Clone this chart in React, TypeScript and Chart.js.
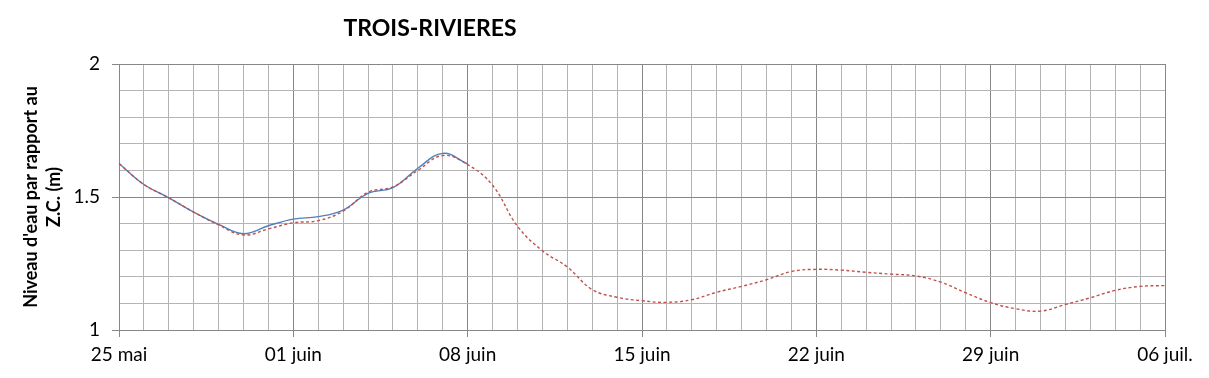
import React, { useEffect, useRef } from 'react';
import { Chart, registerables } from 'chart.js';

Chart.register(...registerables);

const chartTitle = 'TROIS-RIVIERES';
const yAxisTitle = ["Niveau d'eau par rapport au", 'Z.C. (m)'];

const dates = [
  '25 mai', '26 mai', '27 mai', '28 mai', '29 mai', '30 mai', '31 mai',
  '01 juin', '02 juin', '03 juin', '04 juin', '05 juin', '06 juin', '07 juin',
  '08 juin', '09 juin', '10 juin', '11 juin', '12 juin', '13 juin', '14 juin',
  '15 juin', '16 juin', '17 juin', '18 juin', '19 juin', '20 juin', '21 juin',
  '22 juin', '23 juin', '24 juin', '25 juin', '26 juin', '27 juin', '28 juin',
  '29 juin', '30 juin', '01 juil.', '02 juil.', '03 juil.', '04 juil.', '05 juil.',
  '06 juil.',
];

// Observed level (solid blue)
const observed = [
  1.626, 1.547, 1.497, 1.443, 1.397, 1.362, 1.392, 1.417, 1.426, 1.451,
  1.514, 1.535, 1.608, 1.664, 1.624,
];

// Predicted level (dashed red)
const predicted = [
  1.626, 1.547, 1.497, 1.443, 1.395, 1.357, 1.380, 1.403, 1.411, 1.447,
  1.518, 1.538, 1.600, 1.656, 1.622, 1.544, 1.390, 1.298, 1.237, 1.152,
  1.123, 1.110, 1.104, 1.114, 1.142, 1.164, 1.189, 1.220, 1.228, 1.225,
  1.217, 1.210, 1.203, 1.180, 1.140, 1.103, 1.080, 1.071, 1.096, 1.121,
  1.149, 1.164, 1.167,
];

const yMajorValues = [1, 1.5, 2];
const yMajorLabels = ['1', '1.5', '2'];

const MAJOR = '#878787';
const MINOR = '#b4b4b4';

const isYMajor = (v: number) => yMajorValues.some((m) => Math.abs(m - v) < 1e-6);

const titlePlugin = {
  id: 'customTitle',
  afterDraw(chart: any) {
    const ctx = chart.ctx;
    ctx.save();
    ctx.font = 'bold 23px Lato';
    ctx.fillStyle = '#000';
    ctx.textAlign = 'center';
    ctx.textBaseline = 'middle';
    ctx.fillText(chartTitle, 430, 29);
    ctx.restore();
  },
};

export default function App() {
  const ref = useRef<HTMLCanvasElement | null>(null);

  useEffect(() => {
    if (!ref.current) return;
    const chart = new Chart(ref.current, {
      type: 'line',
      data: {
        labels: dates,
        datasets: [
          {
            label: 'Prévu',
            data: predicted,
            borderColor: '#c0504d',
            borderWidth: 1.4,
            borderDash: [3, 2.5],
            pointRadius: 0,
            tension: 0.4,
            fill: false,
          },
          {
            label: 'Observé',
            data: observed,
            borderColor: '#4f81bd',
            borderWidth: 1.4,
            pointRadius: 0,
            tension: 0.4,
            fill: false,
          },
        ],
      },
      options: {
        animation: false,
        responsive: true,
        maintainAspectRatio: false,
        layout: { padding: { left: 0, top: 64, right: 44, bottom: 0 } },
        plugins: {
          legend: { display: false },
          tooltip: { enabled: false },
          title: { display: false },
        },
        scales: {
          x: {
            type: 'category',
            offset: false,
            afterFit: (s: any) => {
              s.height = 48;
            },
            border: { color: MAJOR, width: 1 },
            grid: {
              offset: false,
              color: (c: any) => (c.index % 7 === 0 ? MAJOR : MINOR),
              tickColor: (c: any) => (c.index % 7 === 0 ? MAJOR : 'rgba(0,0,0,0)'),
              tickLength: 7,
              lineWidth: 1,
            },
            ticks: {
              autoSkip: false,
              maxRotation: 0,
              minRotation: 0,
              padding: 6,
              color: '#000',
              font: { family: 'Lato', size: 19 },
              callback: (_v: any, i: number) => (i % 7 === 0 ? dates[i] : ''),
            },
          },
          y: {
            type: 'linear',
            min: 1,
            max: 2,
            afterFit: (s: any) => {
              s.width = 119;
            },
            border: { color: MAJOR, width: 1 },
            grid: {
              color: (c: any) => (isYMajor(c.tick.value) ? MAJOR : MINOR),
              tickColor: (c: any) => (isYMajor(c.tick.value) ? MAJOR : 'rgba(0,0,0,0)'),
              tickLength: 7,
              lineWidth: 1,
            },
            ticks: {
              stepSize: 0.1,
              maxTicksLimit: 100,
              padding: 12,
              color: '#000',
              font: { family: 'Lato', size: 19 },
              callback: (v: any) => {
                const idx = yMajorValues.findIndex((m) => Math.abs(m - Number(v)) < 1e-6);
                return idx >= 0 ? yMajorLabels[idx] : '';
              },
            },
            title: {
              display: true,
              text: yAxisTitle,
              color: '#000',
              font: { family: 'Lato', size: 18, weight: 'bold', lineHeight: '23px' },
              padding: { top: 20, bottom: 0 },
            },
          },
        },
      },
      plugins: [titlePlugin],
    });
    return () => chart.destroy();
  }, []);

  return (
    <div style={{ position: 'absolute', left: 0, top: 0, width: 1209, height: 378 }}>
      <canvas ref={ref} />
    </div>
  );
}
